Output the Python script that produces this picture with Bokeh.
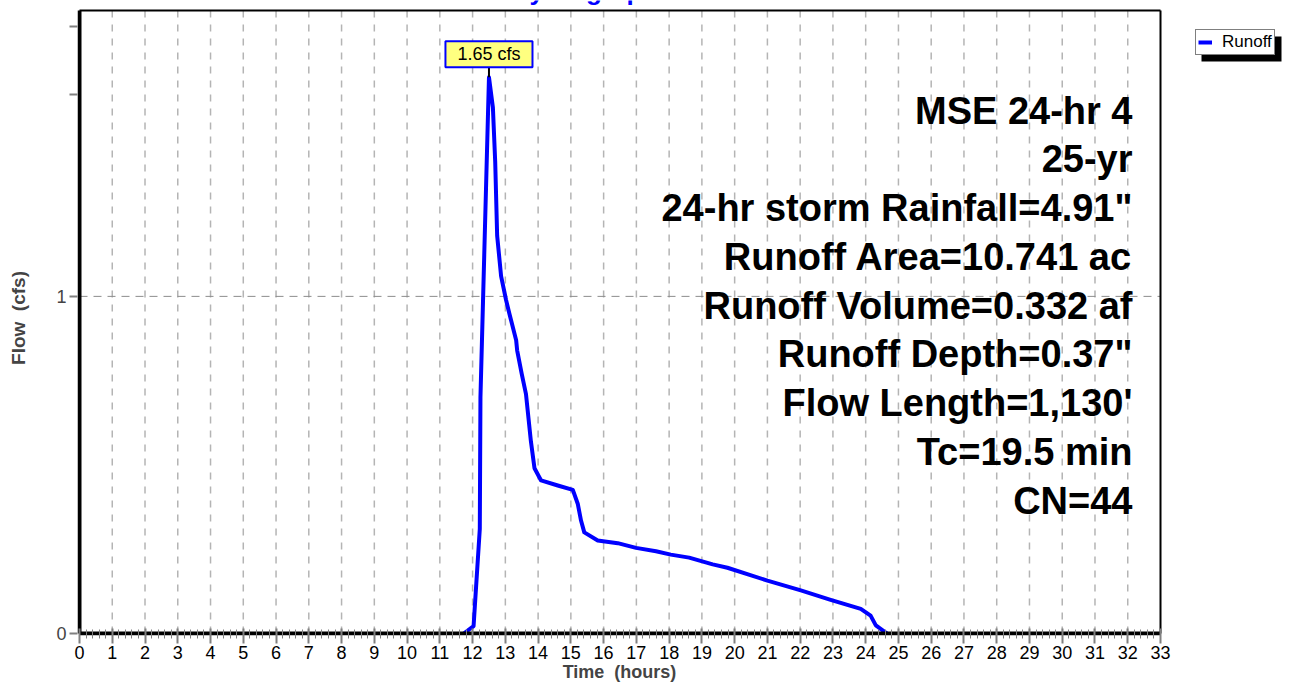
from bokeh.plotting import figure
from bokeh.models import Range1d, FixedTicker, Label, Legend, LegendItem, BoxAnnotation
from bokeh.embed import file_html
from bokeh.resources import INLINE

# ---- data ----
time_hr = [11.73, 12.03, 12.22, 12.24, 12.50, 12.62, 12.69, 12.75, 12.87, 13.02,
           13.12, 13.33, 13.36, 13.50, 13.63, 13.78, 13.89, 14.09, 14.60, 15.06,
           15.21, 15.31, 15.41, 15.82, 16.43, 16.99, 17.60, 18.05, 18.61, 19.33,
           19.78, 21.00, 22.02, 22.93, 23.85, 24.15, 24.31, 24.56, 24.65]
flow_cfs = [0.0, 0.022, 0.31, 0.70, 1.65, 1.56, 1.40, 1.18, 1.06, 0.99,
            0.95, 0.87, 0.84, 0.77, 0.71, 0.57, 0.49, 0.454, 0.439, 0.426,
            0.385, 0.335, 0.30, 0.276, 0.268, 0.254, 0.244, 0.234, 0.225, 0.205,
            0.195, 0.157, 0.128, 0.10, 0.073, 0.053, 0.024, 0.006, 0.0]
peak_time = 12.50
peak_flow = 1.65
peak_label = "1.65 cfs"
x_ticks = list(range(0, 34))
y_ticks = [0, 1]
y_extra_ticks = [1.6, 1.8]
info_lines = ["MSE 24-hr 4", "25-yr", '24-hr storm Rainfall=4.91"',
              "Runoff Area=10.741 ac", "Runoff Volume=0.332 af",
              'Runoff Depth=0.37"', "Flow Length=1,130'", "Tc=19.5 min", "CN=44"]
series_name = "Runoff"
chart_title = "Hydrograph"
x_title = "Time \u00a0(hours)"
y_title = "Flow \u00a0(cfs)"

# ---- layout (canvas at page 0,0) ----
W, H = 1296, 684
PL, PR, PT, PB = 79, 1160, 10, 633      # plot box (axis lines / border) in px
X_MAX = 33
Y_TOP = 1.848
PX = (PB - PT) / Y_TOP                  # px per cfs
PXX = (PR - PL) / X_MAX                 # px per hour
FONT = "Liberation Sans"


def dx(px):
    return (px - PL) / PXX


def dy(py):
    return (PB - py) / PX


# the frame covers the whole area right of / above the axes, so the legend
# and title can live inside it; the plot box border is drawn explicitly
FRAME_L, FRAME_B = PL - 2, PB + 2
p = figure(width=W, height=H, output_backend="svg", toolbar_location=None,
           x_range=Range1d(dx(FRAME_L), dx(W)), y_range=Range1d(dy(FRAME_B), dy(0)),
           min_border_left=FRAME_L, min_border_right=0, min_border_top=0,
           min_border_bottom=H - FRAME_B)
p.background_fill_color = "white"
p.border_fill_color = "white"
p.outline_line_color = None
p.xgrid.grid_line_color = None
p.ygrid.grid_line_color = None

# grid lines (dashed) inside the plot box
gx = x_ticks[1:-1]
p.segment(x0=gx, y0=[0] * len(gx), x1=gx, y1=[Y_TOP] * len(gx),
          line_color="#b4b4b4", line_width=1.5, line_dash="7 7")
gy = [t for t in y_ticks if t > 0]
p.segment(x0=[0] * len(gy), y0=gy, x1=[X_MAX] * len(gy), y1=gy,
          line_color="#8c8c8c", line_width=1, line_dash="8 6")

# hydrograph line
r = p.line(time_hr, flow_cfs, line_color="#0000ff", line_width=4, line_join="round")

# plot box: thin top/right border, thick left/bottom axis lines
p.segment(x0=[0, X_MAX], y0=[Y_TOP, 0], x1=[X_MAX, X_MAX], y1=[Y_TOP, Y_TOP],
          line_color="black", line_width=2)
p.segment(x0=[0, 0], y0=[0, 0], x1=[0, X_MAX], y1=[Y_TOP, 0],
          line_color="black", line_width=4)

# x axis
xa = p.xaxis[0]
minor = [i / 5 for i in range(0, X_MAX * 5 + 1)]
xa.ticker = FixedTicker(ticks=x_ticks, minor_ticks=minor)
xa.axis_line_color = None
xa.major_tick_line_color = "#808080"
xa.major_tick_line_width = 2
xa.major_tick_in = 7
xa.major_tick_out = 8
xa.minor_tick_line_color = "#808080"
xa.minor_tick_line_width = 1
xa.minor_tick_in = 6
xa.minor_tick_out = 3
xa.major_label_text_font = FONT
xa.major_label_text_font_size = "18px"
xa.major_label_text_color = "black"
xa.major_label_standoff = 2
# the axis title is centred on the (wider) frame: trailing no-break spaces
# shift the visible words back under the centre of the plot box
frame_mid = (FRAME_L + W) / 2
box_mid = (PL + PR) / 2
nbsp_px = 0.278 * 18
pad = int(round(2 * (frame_mid - box_mid) / nbsp_px))
xa.axis_label = x_title + "\u00a0" * pad
xa.axis_label_text_font = FONT
xa.axis_label_text_font_style = "bold"
xa.axis_label_text_font_size = "18px"
xa.axis_label_standoff = 0

# y axis
ya = p.yaxis[0]
ya.ticker = FixedTicker(ticks=y_ticks + y_extra_ticks)
ya.major_label_overrides = {t: "" for t in y_extra_ticks}
ya.axis_line_color = None
ya.major_tick_line_color = "#808080"
ya.major_tick_line_width = 2
ya.major_tick_in = 0
ya.major_tick_out = 8
ya.minor_tick_line_color = None
ya.major_label_text_font = FONT
ya.major_label_text_font_size = "18px"
ya.major_label_standoff = 3
ya.axis_label = y_title
ya.axis_label_text_font = FONT
ya.axis_label_text_font_style = "bold"
ya.axis_label_text_font_size = "19px"
ya.axis_label_standoff = 24

# title, mostly above the visible area as in the reference
p.add_layout(Label(x=dx(584), y=dy(-10), text=chart_title, text_align="center",
                   text_baseline="middle", text_font=FONT,
                   text_font_style="bold", text_font_size="26px",
                   text_color="#0000ff"))

# peak marker label
gap_px = 11
p.segment(x0=[peak_time], y0=[peak_flow], x1=[peak_time],
          y1=[peak_flow + gap_px / PX], line_color="black", line_width=2)
p.add_layout(Label(x=peak_time, y=peak_flow, y_offset=gap_px - 1, text=peak_label,
                   text_align="center", text_baseline="bottom",
                   text_font=FONT, text_font_size="18px", text_color="black",
                   background_fill_color="#ffff80", border_line_color="#0000ff",
                   border_line_width=2, padding=(12, 3)))

# info block (right aligned)
first_mid = 110.0
step = 48.75
for i, line in enumerate(info_lines):
    p.add_layout(Label(x=dx(1132), y=dy(first_mid + step * i), text=line,
                       text_align="right", text_baseline="middle",
                       text_font=FONT, text_font_style="bold",
                       text_font_size="38px", text_color="black"))

# legend with a drop shadow box behind it
lx, lbottom = 1195, 55
p.add_layout(BoxAnnotation(left=dx(lx + 6), right=dx(1281), top=dy(36),
                           bottom=dy(lbottom + 6), fill_color="black", fill_alpha=1,
                           line_color=None))
main = Legend(items=[LegendItem(label=series_name, renderers=[r])],
              location=(lx - FRAME_L, FRAME_B - lbottom),
              background_fill_color="white", background_fill_alpha=1,
              border_line_color="black", label_text_color="black",
              label_text_font=FONT, label_text_font_size="17px",
              glyph_width=14, glyph_height=14, label_height=14, label_standoff=10,
              padding=2, spacing=0, margin=0, border_line_width=1)
p.add_layout(main, "center")

open("out.html", "w").write(file_html(p, INLINE))
